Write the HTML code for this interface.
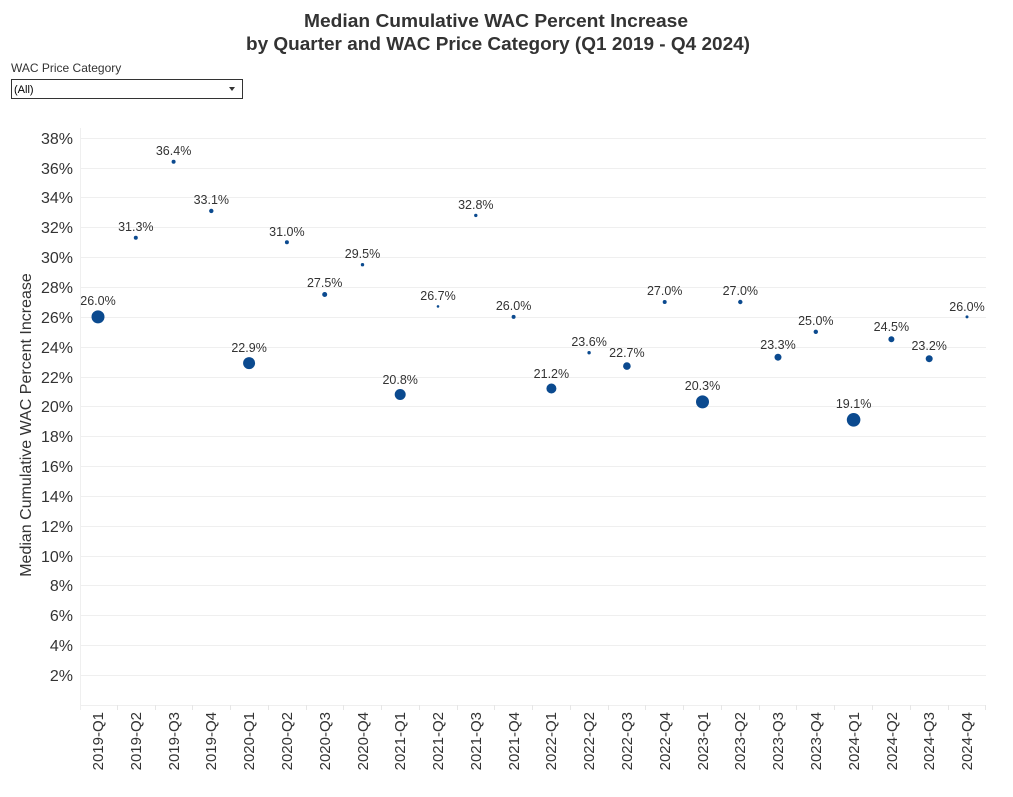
<!DOCTYPE html>
<html><head><meta charset="utf-8"><style>
html,body{margin:0;padding:0;background:#fff;}
svg{display:block;font-family:"Liberation Sans",Arial,sans-serif;}
</style></head><body>
<svg width="1013" height="797" viewBox="0 0 1013 797" xmlns="http://www.w3.org/2000/svg">
<g font-weight="bold" font-size="18" fill="#333" text-anchor="middle">
<text x="496" y="27" textLength="384" lengthAdjust="spacingAndGlyphs">Median Cumulative WAC Percent Increase</text>
<text x="498" y="50" textLength="504" lengthAdjust="spacingAndGlyphs">by Quarter and WAC Price Category (Q1 2019 - Q4 2024)</text>
</g>
<text x="11" y="72" font-size="12" fill="#333">WAC Price Category</text>
<rect x="11.5" y="79.5" width="231" height="19" fill="#fff" stroke="#333"/>
<text x="14" y="93" font-size="11" fill="#000">(All)</text>
<path d="M229 87 h6 l-3 4 z" fill="#333"/>
<g stroke="#efefef" stroke-width="1">
<line x1="80" x2="986" y1="138.5" y2="138.5"/><line x1="80" x2="986" y1="168.5" y2="168.5"/>
<line x1="80" x2="986" y1="197.5" y2="197.5"/><line x1="80" x2="986" y1="227.5" y2="227.5"/>
<line x1="80" x2="986" y1="257.5" y2="257.5"/><line x1="80" x2="986" y1="287.5" y2="287.5"/>
<line x1="80" x2="986" y1="317.5" y2="317.5"/><line x1="80" x2="986" y1="347.5" y2="347.5"/>
<line x1="80" x2="986" y1="377.5" y2="377.5"/><line x1="80" x2="986" y1="406.5" y2="406.5"/>
<line x1="80" x2="986" y1="436.5" y2="436.5"/><line x1="80" x2="986" y1="466.5" y2="466.5"/>
<line x1="80" x2="986" y1="496.5" y2="496.5"/><line x1="80" x2="986" y1="526.5" y2="526.5"/>
<line x1="80" x2="986" y1="556.5" y2="556.5"/><line x1="80" x2="986" y1="585.5" y2="585.5"/>
<line x1="80" x2="986" y1="615.5" y2="615.5"/><line x1="80" x2="986" y1="645.5" y2="645.5"/>
<line x1="80" x2="986" y1="675.5" y2="675.5"/>
<line x1="80.5" x2="80.5" y1="128" y2="710"/>
<line x1="80" x2="986" y1="705.5" y2="705.5"/>
</g>
<g stroke="#e6e6e6">
<line x1="117.5" x2="117.5" y1="705" y2="710"/><line x1="155.5" x2="155.5" y1="705" y2="710"/><line x1="192.5" x2="192.5" y1="705" y2="710"/><line x1="230.5" x2="230.5" y1="705" y2="710"/><line x1="268.5" x2="268.5" y1="705" y2="710"/><line x1="306.5" x2="306.5" y1="705" y2="710"/><line x1="343.5" x2="343.5" y1="705" y2="710"/><line x1="381.5" x2="381.5" y1="705" y2="710"/><line x1="419.5" x2="419.5" y1="705" y2="710"/><line x1="457.5" x2="457.5" y1="705" y2="710"/><line x1="494.5" x2="494.5" y1="705" y2="710"/><line x1="532.5" x2="532.5" y1="705" y2="710"/><line x1="570.5" x2="570.5" y1="705" y2="710"/><line x1="608.5" x2="608.5" y1="705" y2="710"/><line x1="645.5" x2="645.5" y1="705" y2="710"/><line x1="683.5" x2="683.5" y1="705" y2="710"/><line x1="721.5" x2="721.5" y1="705" y2="710"/><line x1="759.5" x2="759.5" y1="705" y2="710"/><line x1="796.5" x2="796.5" y1="705" y2="710"/><line x1="834.5" x2="834.5" y1="705" y2="710"/><line x1="872.5" x2="872.5" y1="705" y2="710"/><line x1="910.5" x2="910.5" y1="705" y2="710"/><line x1="948.5" x2="948.5" y1="705" y2="710"/><line x1="985.5" x2="985.5" y1="705" y2="710"/>
</g>
<g font-size="16" fill="#333" text-anchor="end">
<text x="73" y="144">38%</text><text x="73" y="174">36%</text><text x="73" y="203">34%</text><text x="73" y="233">32%</text><text x="73" y="263">30%</text><text x="73" y="293">28%</text><text x="73" y="323">26%</text><text x="73" y="353">24%</text><text x="73" y="383">22%</text><text x="73" y="412">20%</text><text x="73" y="442">18%</text><text x="73" y="472">16%</text><text x="73" y="502">14%</text><text x="73" y="532">12%</text><text x="73" y="562">10%</text><text x="73" y="591">8%</text><text x="73" y="621">6%</text><text x="73" y="651">4%</text><text x="73" y="681">2%</text>
</g>
<text transform="translate(31,425) rotate(-90)" font-size="16" fill="#333" text-anchor="middle">Median Cumulative WAC Percent Increase</text>
<g font-size="15" fill="#333" text-anchor="end">
<text transform="translate(103,712) rotate(-90)">2019-Q1</text>
<text transform="translate(141,712) rotate(-90)">2019-Q2</text>
<text transform="translate(179,712) rotate(-90)">2019-Q3</text>
<text transform="translate(216,712) rotate(-90)">2019-Q4</text>
<text transform="translate(254,712) rotate(-90)">2020-Q1</text>
<text transform="translate(292,712) rotate(-90)">2020-Q2</text>
<text transform="translate(330,712) rotate(-90)">2020-Q3</text>
<text transform="translate(368,712) rotate(-90)">2020-Q4</text>
<text transform="translate(405,712) rotate(-90)">2021-Q1</text>
<text transform="translate(443,712) rotate(-90)">2021-Q2</text>
<text transform="translate(481,712) rotate(-90)">2021-Q3</text>
<text transform="translate(519,712) rotate(-90)">2021-Q4</text>
<text transform="translate(556,712) rotate(-90)">2022-Q1</text>
<text transform="translate(594,712) rotate(-90)">2022-Q2</text>
<text transform="translate(632,712) rotate(-90)">2022-Q3</text>
<text transform="translate(670,712) rotate(-90)">2022-Q4</text>
<text transform="translate(708,712) rotate(-90)">2023-Q1</text>
<text transform="translate(745,712) rotate(-90)">2023-Q2</text>
<text transform="translate(783,712) rotate(-90)">2023-Q3</text>
<text transform="translate(821,712) rotate(-90)">2023-Q4</text>
<text transform="translate(859,712) rotate(-90)">2024-Q1</text>
<text transform="translate(897,712) rotate(-90)">2024-Q2</text>
<text transform="translate(934,712) rotate(-90)">2024-Q3</text>
<text transform="translate(972,712) rotate(-90)">2024-Q4</text>
</g>
<g fill="#0b4a8f">
<circle cx="98" cy="316.9" r="6.5"/><circle cx="135.8" cy="237.8" r="2"/><circle cx="173.6" cy="161.7" r="2"/><circle cx="211.3" cy="210.9" r="2.2"/>
<circle cx="249.1" cy="363.1" r="6"/><circle cx="286.9" cy="242.3" r="2"/><circle cx="324.7" cy="294.5" r="2.5"/><circle cx="362.5" cy="264.7" r="1.7"/>
<circle cx="400.2" cy="394.5" r="5.5"/><circle cx="438" cy="306.4" r="1.3"/><circle cx="475.8" cy="215.4" r="1.7"/><circle cx="513.6" cy="316.9" r="2"/>
<circle cx="551.4" cy="388.5" r="5"/><circle cx="589.1" cy="352.7" r="1.7"/><circle cx="626.9" cy="366.1" r="3.8"/><circle cx="664.7" cy="302" r="2"/>
<circle cx="702.5" cy="401.9" r="6.5"/><circle cx="740.3" cy="302" r="2.2"/><circle cx="778" cy="357.2" r="3.5"/><circle cx="815.8" cy="331.8" r="2.2"/>
<circle cx="853.6" cy="419.8" r="6.8"/><circle cx="891.4" cy="339.3" r="3"/><circle cx="929.2" cy="358.7" r="3.5"/><circle cx="967" cy="316.9" r="1.5"/>
</g>
<g font-size="12.5" fill="#333" text-anchor="middle">
<text x="98" y="305">26.0%</text><text x="135.8" y="231">31.3%</text><text x="173.6" y="155">36.4%</text><text x="211.3" y="204">33.1%</text>
<text x="249.1" y="352">22.9%</text><text x="286.9" y="236">31.0%</text><text x="324.7" y="287">27.5%</text><text x="362.5" y="258">29.5%</text>
<text x="400.2" y="384">20.8%</text><text x="438" y="300">26.7%</text><text x="475.8" y="209">32.8%</text><text x="513.6" y="310">26.0%</text>
<text x="551.4" y="378">21.2%</text><text x="589.1" y="346">23.6%</text><text x="626.9" y="357">22.7%</text><text x="664.7" y="295">27.0%</text>
<text x="702.5" y="390">20.3%</text><text x="740.3" y="295">27.0%</text><text x="778" y="349">23.3%</text><text x="815.8" y="325">25.0%</text>
<text x="853.6" y="408">19.1%</text><text x="891.4" y="331">24.5%</text><text x="929.2" y="350">23.2%</text><text x="967" y="311">26.0%</text>
</g>
</svg>
</body></html>
